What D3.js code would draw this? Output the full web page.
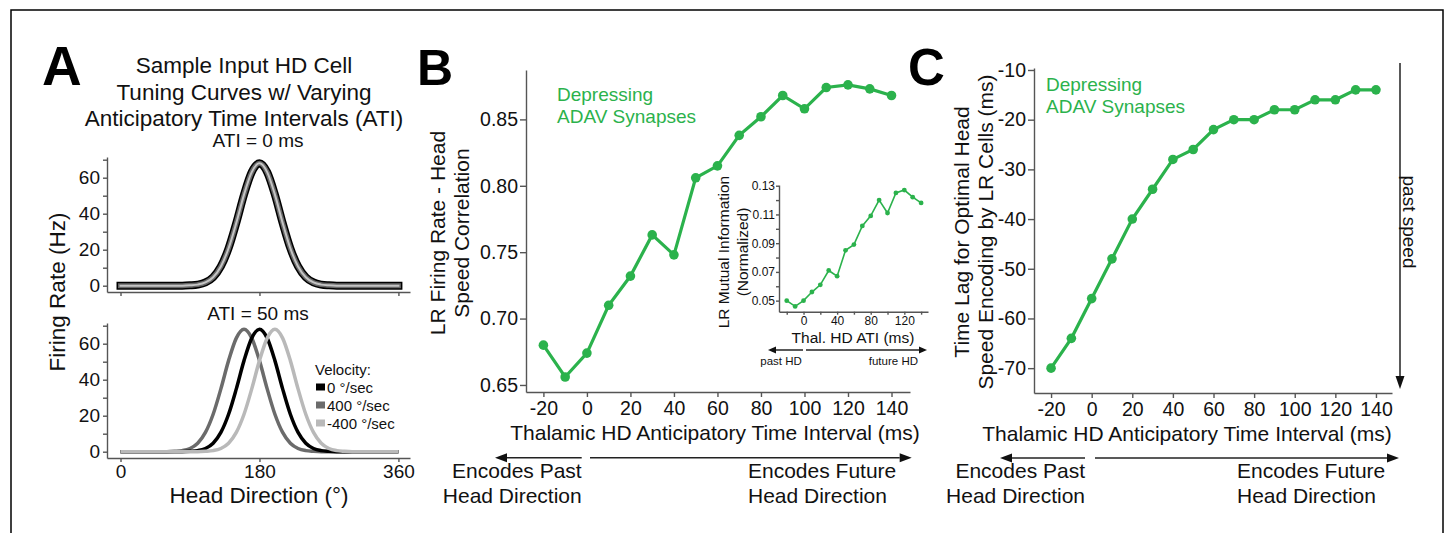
<!DOCTYPE html>
<html>
<head>
<meta charset="utf-8">
<script src="https://cdn.jsdelivr.net/npm/d3@7"></script>
<style>
  body { margin: 0; background: #fff; }
  text { font-family: "Liberation Sans", Arial, Helvetica, sans-serif; }
</style>
</head>
<body>
<svg id="fig" width="1447" height="533"></svg>
<script>

// ---- data ----

// panel A: head direction (deg) and firing rates (Hz)
const headDir = [0,10,20,30,40,50,60,70,80,90,100,110,120,130,140,150,160,170,180,
                 190,200,210,220,230,240,250,260,270,280,290,300,310,320,330,340,350,360];
const rateATI0 = [0,0,0,0,0,0,0,0,0,0.2,0.6,1.8,4.7,10.7,20.8,34.9,50.6,63.1,68.0,
                  63.1,50.6,34.9,20.8,10.7,4.7,1.8,0.6,0.2,0,0,0,0,0,0,0,0,0];
const rateVel0 = [0,0,0,0,0,0,0,0,0,0.2,0.6,1.8,4.7,10.7,20.8,34.9,50.6,63.1,68.0,
                  63.1,50.6,34.9,20.8,10.7,4.7,1.8,0.6,0.2,0,0,0,0,0,0,0,0,0];
const rateVel400 = [0,0,0,0,0,0,0,0.2,0.6,1.8,4.7,10.7,20.8,34.9,50.6,63.1,68.0,
                    63.1,50.6,34.9,20.8,10.7,4.7,1.8,0.6,0.2,0,0,0,0,0,0,0,0,0,0,0];
const rateVelNeg400 = [0,0,0,0,0,0,0,0,0,0,0,0.2,0.6,1.8,4.7,10.7,20.8,34.9,50.6,63.1,
                       68.0,63.1,50.6,34.9,20.8,10.7,4.7,1.8,0.6,0.2,0,0,0,0,0,0,0];
const velocityLabels = ["0 °/sec", "400 °/sec", "-400 °/sec"];
const rateTicks = [0,10,20,30,40,50,60,70];
const dirTicks = [0,180,360];

// panels B, C: thalamic ATI (ms)
const atiMs = [-20,-10,0,10,20,30,40,50,60,70,80,90,100,110,120,130,140];
const lrCorrelation = [0.680,0.656,0.674,0.710,0.732,0.763,0.748,0.806,0.815,
                       0.838,0.852,0.868,0.858,0.874,0.876,0.873,0.868];
const lrMutualInfo = [0.050,0.046,0.050,0.056,0.061,0.071,0.067,0.085,0.089,
                      0.102,0.109,0.120,0.111,0.125,0.127,0.122,0.118];
const optimalLag = [-70,-64,-56,-48,-40,-34,-28,-26,-22,-20,-20,-18,-18,-16,-16,-14,-14];

const atiTicks = [-20,0,20,40,60,80,100,120,140];
const corrTicks = [0.65,0.70,0.75,0.80,0.85];
const miTicks = [0.05,0.06,0.07,0.08,0.09,0.10,0.11,0.12,0.13];
const lagTicks = [-70,-60,-50,-40,-30,-20,-10];

// ---- styles ----
const FONT = '"Liberation Sans", Arial, Helvetica, sans-serif';
const AXIS = "#555";
const GREEN = "#2bb24c";
const plain = d => String(d);   // keep the hyphen minus like the figure

const svg = d3.select("#fig");

// frame
svg.append("rect")
  .attr("x", 11).attr("y", 10).attr("width", 1432).attr("height", 560)
  .attr("fill", "none").attr("stroke", "#000").attr("stroke-width", 1.5);

function styleAxis(g, size) {
  g.attr("font-family", FONT).attr("font-size", size);
  g.select(".domain").attr("stroke", AXIS).attr("stroke-width", 1.4);
  g.selectAll(".tick line").attr("stroke", AXIS).attr("stroke-width", 1.4);
  g.selectAll(".tick text").attr("fill", "#111");
}

function label(x, y, txt, size, opts) {
  opts = opts || {};
  const t = svg.append("text")
    .attr("transform", `translate(${x},${y})` + (opts.rot ? ` rotate(${opts.rot})` : ""))
    .attr("text-anchor", opts.anchor || "middle")
    .attr("font-size", size)
    .attr("font-weight", opts.bold ? "bold" : "normal")
    .attr("fill", opts.color || "#111")
    .text(txt);
  return t;
}

function arrow(x1, y1, x2, y2, len, half) {
  // line from (x1,y1) to arrow tip (x2,y2)
  const dx = x2 - x1, dy = y2 - y1, L = Math.hypot(dx, dy);
  const ux = dx / L, uy = dy / L;
  const bx = x2 - ux * len, by = y2 - uy * len;
  svg.append("line")
    .attr("x1", x1).attr("y1", y1).attr("x2", bx).attr("y2", by)
    .attr("stroke", "#222").attr("stroke-width", 1.5);
  svg.append("path")
    .attr("d", `M${x2},${y2}L${bx - uy * half},${by + ux * half}L${bx + uy * half},${by - ux * half}Z`)
    .attr("fill", "#111");
}

// ================= Panel A =================
label(42, 85, "A", 55, {anchor: "start", bold: true, color: "#000"});
label(244, 73, "Sample Input HD Cell", 22.5);
label(244, 99.5, "Tuning Curves w/ Varying", 22.5);
label(244, 126, "Anticipatory Time Intervals (ATI)", 22.5);

const xA = d3.scaleLinear().domain([-17.5, 375]).range([107, 410]);
const yA1 = d3.scaleLinear().domain([-3.5, 71.5]).range([292, 157]);
const yA2 = d3.scaleLinear().domain([-3.5, 71.5]).range([458, 323]);

// top subplot axes
svg.append("g").attr("transform", "translate(0,292)")
  .call(d3.axisBottom(xA).tickValues(dirTicks).tickFormat("").tickSize(4).tickSizeOuter(0))
  .call(g => styleAxis(g, 19));
svg.append("g").attr("transform", "translate(107,0)")
  .call(d3.axisLeft(yA1).tickValues(rateTicks).tickFormat(d => d % 20 === 0 ? d : "")
        .tickSize(4).tickPadding(3).tickSizeOuter(0))
  .call(g => styleAxis(g, 19));

// bottom subplot axes
svg.append("g").attr("transform", "translate(0,458)")
  .call(d3.axisBottom(xA).tickValues(dirTicks).tickSize(4).tickPadding(3).tickSizeOuter(0))
  .call(g => styleAxis(g, 19));
svg.append("g").attr("transform", "translate(107,0)")
  .call(d3.axisLeft(yA2).tickValues(rateTicks).tickFormat(d => d % 20 === 0 ? d : "")
        .tickSize(4).tickPadding(3).tickSizeOuter(0))
  .call(g => styleAxis(g, 19));

const lineTop = d3.line().x((d, i) => xA(headDir[i])).y(d => yA1(d)).curve(d3.curveMonotoneX);
const lineBot = d3.line().x((d, i) => xA(headDir[i])).y(d => yA2(d)).curve(d3.curveMonotoneX);

// ATI = 0: the three velocity curves coincide
[["#000", 8], ["#666", 5], ["#c4c4c4", 2]].forEach(([c, w]) => {
  svg.append("path").datum(rateATI0)
    .attr("d", lineTop).attr("fill", "none")
    .attr("stroke", c).attr("stroke-width", w).attr("stroke-linecap", "square");
});

// ATI = 50
const velSeries = [
  {vals: rateVel400, color: "#6b6b6b"},
  {vals: rateVel0, color: "#000"},
  {vals: rateVelNeg400, color: "#b9b9b9"}
];
velSeries.forEach(s => {
  svg.append("path").datum(s.vals)
    .attr("d", lineBot).attr("fill", "none")
    .attr("stroke", s.color).attr("stroke-width", 3.5);
});

label(258, 147, "ATI = 0 ms", 19);
label(258, 320, "ATI = 50 ms", 19);
label(65, 292, "Firing Rate (Hz)", 22.5, {rot: -90});
label(259, 503, "Head Direction (°)", 22.5);

// legend
label(315, 375, "Velocity:", 15, {anchor: "start"});
const legColors = ["#000", "#6b6b6b", "#b9b9b9"];
velocityLabels.forEach((t, i) => {
  const by = 392.5 + i * 18;
  svg.append("rect").attr("x", 316).attr("y", by - 9).attr("width", 9).attr("height", 7)
    .attr("fill", legColors[i]);
  label(327, by, t, 15, {anchor: "start"});
});

// ================= Panel B =================
label(417, 85, "B", 50, {anchor: "start", bold: true, color: "#000"});

const xB = d3.scaleLinear().domain([-28, 148.5]).range([526, 910]);
const yB = d3.scaleLinear().domain([0.6447, 0.8872]).range([392, 70]);

svg.append("g").attr("transform", "translate(0,392)")
  .call(d3.axisBottom(xB).tickValues(atiTicks).tickFormat(plain)
        .tickSize(5).tickPadding(4).tickSizeOuter(0))
  .call(g => styleAxis(g, 19.5));
svg.append("g").attr("transform", "translate(526,0)")
  .call(d3.axisLeft(yB).tickValues(corrTicks).tickFormat(d3.format(".2f"))
        .tickSize(6).tickPadding(2).tickSizeOuter(0))
  .call(g => styleAxis(g, 19.5));

const lineB = d3.line().x((d, i) => xB(atiMs[i])).y(d => yB(d));
svg.append("path").datum(lrCorrelation)
  .attr("d", lineB).attr("fill", "none").attr("stroke", GREEN).attr("stroke-width", 3.2);
svg.selectAll(".ptB").data(lrCorrelation).enter().append("circle")
  .attr("class", "ptB")
  .attr("cx", (d, i) => xB(atiMs[i])).attr("cy", d => yB(d)).attr("r", 4.8)
  .attr("fill", GREEN);

label(557, 100.5, "Depressing", 19, {anchor: "start", color: GREEN});
label(557, 122.5, "ADAV Synapses", 19, {anchor: "start", color: GREEN});
label(445, 233, "LR Firing Rate - Head", 21, {rot: -90});
label(469, 233, "Speed Correlation", 21, {rot: -90});
label(715, 440, "Thalamic HD Anticipatory Time Interval (ms)", 21);

arrow(581.7, 457.7, 495, 457.7, 12, 4.5);
arrow(590, 457.7, 911.7, 457.7, 12, 4.5);
label(581.7, 478, "Encodes Past", 21, {anchor: "end"});
label(581.7, 503, "Head Direction", 21, {anchor: "end"});
label(748, 478, "Encodes Future", 21, {anchor: "start"});
label(748, 503, "Head Direction", 21, {anchor: "start"});

// inset
const xI = d3.scaleLinear().domain([-29.2, 148.2]).range([779, 928]);
const yI = d3.scaleLinear().domain([0.0423, 0.1305]).range([311.7, 185]);

svg.append("g").attr("transform", "translate(0,311.7)")
  .call(d3.axisBottom(xI).tickValues(atiTicks).tickFormat(d => d % 40 === 0 ? d : "")
        .tickSize(3).tickPadding(2).tickSizeOuter(0))
  .call(g => styleAxis(g, 12));
svg.append("g").attr("transform", "translate(779,0)")
  .call(d3.axisLeft(yI).tickValues(miTicks)
        .tickFormat(d => Math.round(d * 100) % 2 === 1 ? d3.format(".2f")(d) : "")
        .tickSize(3).tickPadding(1).tickSizeOuter(0))
  .call(g => styleAxis(g, 12));

const lineI = d3.line().x((d, i) => xI(atiMs[i])).y(d => yI(d));
svg.append("path").datum(lrMutualInfo)
  .attr("d", lineI).attr("fill", "none").attr("stroke", GREEN).attr("stroke-width", 1.6);
svg.selectAll(".ptI").data(lrMutualInfo).enter().append("circle")
  .attr("class", "ptI")
  .attr("cx", (d, i) => xI(atiMs[i])).attr("cy", d => yI(d)).attr("r", 2.4)
  .attr("fill", GREEN);

label(729, 252, "LR Mutual Information", 15.5, {rot: -90});
label(748, 252, "(Normalized)", 15.5, {rot: -90});
label(853, 343, "Thal. HD ATI (ms)", 15.5);
arrow(803, 350, 768, 350, 8, 3.5);
arrow(806, 350, 927, 350, 8, 3.5);
label(781, 365, "past HD", 11.5);
label(918, 365, "future HD", 11.5, {anchor: "end"});

// ================= Panel C =================
label(908, 85, "C", 51, {anchor: "start", bold: true, color: "#000"});

const xC = d3.scaleLinear().domain([-28.4, 147.9]).range([1034, 1392]);
const yC = d3.scaleLinear().domain([-75, -9.6]).range([393, 68]);

svg.append("g").attr("transform", "translate(0,393)")
  .call(d3.axisBottom(xC).tickValues(atiTicks).tickFormat(plain)
        .tickSize(5).tickPadding(4).tickSizeOuter(0))
  .call(g => styleAxis(g, 19.5));
svg.append("g").attr("transform", "translate(1034,0)")
  .call(d3.axisLeft(yC).tickValues(lagTicks).tickFormat(plain)
        .tickSize(6).tickPadding(2).tickSizeOuter(0))
  .call(g => styleAxis(g, 19.5));

const lineC = d3.line().x((d, i) => xC(atiMs[i])).y(d => yC(d));
svg.append("path").datum(optimalLag)
  .attr("d", lineC).attr("fill", "none").attr("stroke", GREEN).attr("stroke-width", 3.2);
svg.selectAll(".ptC").data(optimalLag).enter().append("circle")
  .attr("class", "ptC")
  .attr("cx", (d, i) => xC(atiMs[i])).attr("cy", d => yC(d)).attr("r", 4.8)
  .attr("fill", GREEN);

label(1046, 91, "Depressing", 19, {anchor: "start", color: GREEN});
label(1046, 113, "ADAV Synapses", 19, {anchor: "start", color: GREEN});
label(969, 232, "Time Lag for Optimal Head", 21, {rot: -90});
label(993, 232, "Speed Encoding by LR Cells (ms)", 21, {rot: -90});
label(1187, 441, "Thalamic HD Anticipatory Time Interval (ms)", 21);

arrow(1400, 63, 1400, 389, 13, 4.5);
label(1403, 222, "past speed", 19, {rot: 90});

arrow(1085, 458, 1000, 458, 12, 4.5);
arrow(1095, 458, 1399, 458, 12, 4.5);
label(1085, 478, "Encodes Past", 21, {anchor: "end"});
label(1085, 503, "Head Direction", 21, {anchor: "end"});
label(1237, 478, "Encodes Future", 21, {anchor: "start"});
label(1237, 503, "Head Direction", 21, {anchor: "start"});

</script>
</body>
</html>
